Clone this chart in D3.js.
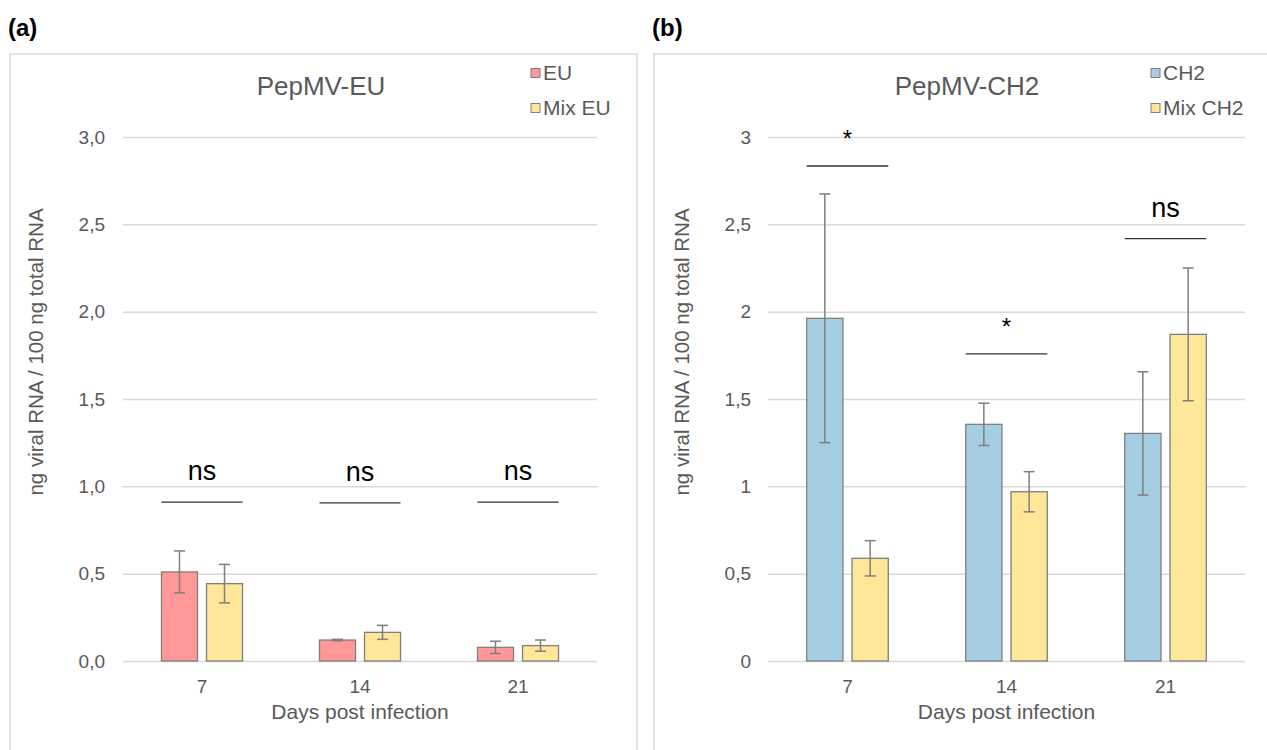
<!DOCTYPE html>
<html>
<head>
<meta charset="utf-8">
<script src="https://cdn.jsdelivr.net/npm/d3@7"></script>
<style>
  body { margin: 0; background: #ffffff; }
  text { font-family: "Liberation Sans", Arial, Helvetica, sans-serif; }
</style>
</head>
<body>
<div id="chart"></div>
<script>
// days post infection (x categories)
var days = ["7", "14", "21"];

// panel (a) PepMV-EU
var euMeans = [0.51, 0.12, 0.078];
var euErr = [0.12, 0.004, 0.035];
var mixEuMeans = [0.443, 0.164, 0.088];
var mixEuErr = [0.11, 0.04, 0.032];
var ticksA = [0, 0.5, 1, 1.5, 2, 2.5, 3];
var sigLabelsA = ["ns", "ns", "ns"];
var sigLevelsA = [0.91, 0.905, 0.91];

// panel (b) PepMV-CH2
var ch2Means = [1.962, 1.355, 1.303];
var ch2Err = [0.712, 0.121, 0.353];
var mixCh2Means = [0.588, 0.969, 1.87];
var mixCh2Err = [0.101, 0.115, 0.38];
var ticksB = [0, 0.5, 1, 1.5, 2, 2.5, 3];
var sigLabelsB = ["*", "*", "ns"];
var sigLevelsB = [2.834, 1.758, 2.418];

var textGrey = "#595959";
var comma = d3.formatLocale({ decimal: ",", thousands: ".", grouping: [3], currency: ["", ""] });

var svg = d3.select("#chart").append("svg")
    .attr("width", 1267)
    .attr("height", 750);

function drawPanel(p) {
    // frame around the panel
    svg.append("rect")
        .attr("x", p.frameX).attr("y", 54)
        .attr("width", p.frameW).attr("height", 720)
        .attr("fill", "none")
        .attr("stroke", "#d9d9d9")
        .attr("stroke-width", 1.5);

    svg.append("text")
        .attr("x", p.frameX - 2).attr("y", 36)
        .attr("font-size", 24).attr("font-weight", "bold")
        .attr("fill", "#000")
        .text(p.letter);

    var left = p.plotLeft, right = p.plotRight;
    var w = right - left;

    var g = svg.append("g").attr("transform", "translate(" + left + ",0)");

    var y = d3.scaleLinear().domain([0, 3]).range([661, 137]);

    var x0 = d3.scaleBand().domain(days).range([0, w])
        .paddingInner(0.487).paddingOuter(0.2435);
    var x1 = d3.scaleBand().domain([0, 1]).range([0, x0.bandwidth()])
        .paddingInner(0.2);

    // gridlines + y labels
    var yAxis = g.append("g")
        .call(d3.axisLeft(y).tickValues(p.ticks).tickSize(-w).tickPadding(p.tickPad)
            .tickFormat(p.fmt));
    yAxis.select(".domain").remove();
    yAxis.selectAll("line").attr("stroke", "#d9d9d9").attr("stroke-width", 1.5);
    yAxis.selectAll("text").attr("font-size", 19).attr("fill", textGrey)
        .style("font-family", "Liberation Sans, Arial, sans-serif");

    var xAxis = g.append("g")
        .attr("transform", "translate(0,661)")
        .call(d3.axisBottom(x0).tickSize(0).tickPadding(19));
    xAxis.select(".domain").remove();
    xAxis.selectAll("text").attr("font-size", 19).attr("fill", textGrey)
        .style("font-family", "Liberation Sans, Arial, sans-serif");

    // bars
    p.series.forEach(function (s, si) {
        g.selectAll(".bar" + si)
            .data(days)
            .enter().append("rect")
            .attr("x", function (d) { return x0(d) + x1(si); })
            .attr("y", function (d, i) { return y(s.means[i]); })
            .attr("width", x1.bandwidth())
            .attr("height", function (d, i) { return y(0) - y(s.means[i]); })
            .attr("fill", s.color)
            .attr("stroke", "#7f7f7f")
            .attr("stroke-width", 1.3);

        // error bars
        var eb = g.selectAll(".err" + si)
            .data(days)
            .enter().append("g")
            .attr("stroke", "#7f7f7f")
            .attr("stroke-width", 1.5);
        eb.append("line")
            .attr("x1", function (d) { return x0(d) + x1(si) + x1.bandwidth() / 2; })
            .attr("x2", function (d) { return x0(d) + x1(si) + x1.bandwidth() / 2; })
            .attr("y1", function (d, i) { return y(s.means[i] + s.err[i]); })
            .attr("y2", function (d, i) { return y(s.means[i] - s.err[i]); });
        [1, -1].forEach(function (sign) {
            eb.append("line")
                .attr("x1", function (d) { return x0(d) + x1(si) + x1.bandwidth() / 2 - 5.5; })
                .attr("x2", function (d) { return x0(d) + x1(si) + x1.bandwidth() / 2 + 5.5; })
                .attr("y1", function (d, i) { return y(s.means[i] + sign * s.err[i]); })
                .attr("y2", function (d, i) { return y(s.means[i] + sign * s.err[i]); });
        });
    });

    // significance marks
    var sig = g.selectAll(".sig")
        .data(days)
        .enter().append("g");
    sig.append("line")
        .attr("x1", function (d) { return x0(d); })
        .attr("x2", function (d) { return x0(d) + x0.bandwidth(); })
        .attr("y1", function (d, i) { return y(p.sigLevels[i]); })
        .attr("y2", function (d, i) { return y(p.sigLevels[i]); })
        .attr("stroke", "#333")
        .attr("stroke-width", 1.3);
    sig.append("text")
        .attr("x", function (d) { return x0(d) + x0.bandwidth() / 2; })
        .attr("y", function (d, i) {
            return y(p.sigLevels[i]) - (p.sigLabels[i] == "*" ? 19 : 22);
        })
        .attr("text-anchor", "middle")
        .attr("font-size", function (d, i) { return p.sigLabels[i] == "*" ? 24 : 27; })
        .attr("fill", "#000")
        .text(function (d, i) { return p.sigLabels[i]; });

    // title
    svg.append("text")
        .attr("x", p.titleX).attr("y", 95)
        .attr("text-anchor", "middle")
        .attr("font-size", 26)
        .attr("fill", textGrey)
        .text(p.title);

    // legend
    p.series.forEach(function (s, si) {
        var ly = 73 + si * 35;
        svg.append("rect")
            .attr("x", p.legendX).attr("y", ly - 4.5)
            .attr("width", 9).attr("height", 9)
            .attr("fill", s.color)
            .attr("stroke", "#7f7f7f")
            .attr("stroke-width", 1);
        svg.append("text")
            .attr("x", p.legendX + 12).attr("y", ly + 7)
            .attr("font-size", 21)
            .attr("fill", textGrey)
            .text(s.name);
    });

    // axis titles
    svg.append("text")
        .attr("x", left + w / 2).attr("y", 719)
        .attr("text-anchor", "middle")
        .attr("font-size", 21)
        .attr("fill", textGrey)
        .text("Days post infection");

    svg.append("text")
        .attr("transform", "translate(" + p.yTitleX + ",352) rotate(-90)")
        .attr("text-anchor", "middle")
        .attr("font-size", 20.5)
        .attr("fill", textGrey)
        .text("ng viral RNA / 100 ng total RNA");
}

drawPanel({
    letter: "(a)", frameX: 10, frameW: 627,
    plotLeft: 123, plotRight: 597, tickPad: 18,
    ticks: ticksA, fmt: comma.format(".1f"),
    sigLabels: sigLabelsA, sigLevels: sigLevelsA,
    title: "PepMV-EU", titleX: 321, legendX: 531, yTitleX: 43,
    series: [
        { name: "EU", means: euMeans, err: euErr, color: "#ff9896" },
        { name: "Mix EU", means: mixEuMeans, err: mixEuErr, color: "#ffe699" }
    ]
});

drawPanel({
    letter: "(b)", frameX: 654, frameW: 640,
    plotLeft: 768, plotRight: 1245, tickPad: 17,
    ticks: ticksB, fmt: comma.format("~g"),
    sigLabels: sigLabelsB, sigLevels: sigLevelsB,
    title: "PepMV-CH2", titleX: 967, legendX: 1151, yTitleX: 689,
    series: [
        { name: "CH2", means: ch2Means, err: ch2Err, color: "#a6cee3" },
        { name: "Mix CH2", means: mixCh2Means, err: mixCh2Err, color: "#ffe699" }
    ]
});
</script>
</body>
</html>
